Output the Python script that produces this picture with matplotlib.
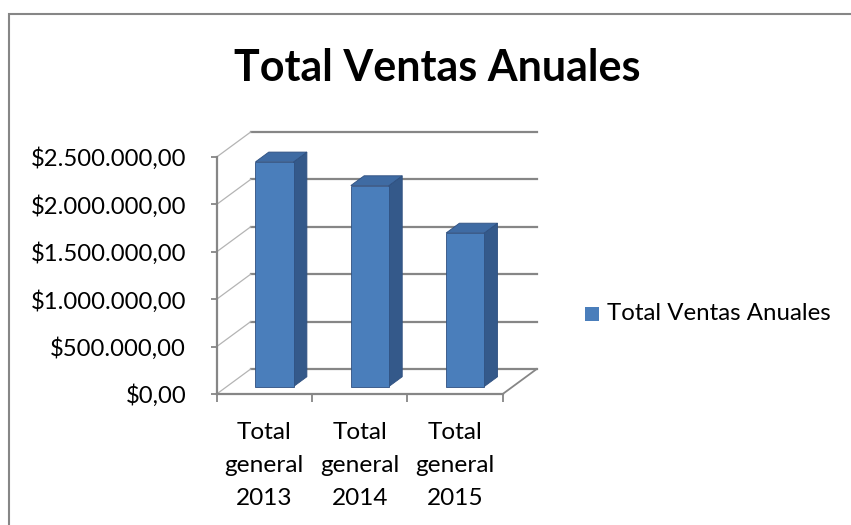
import matplotlib
matplotlib.use('Agg')
import numpy as np
import matplotlib.pyplot as plt
import matplotlib.transforms as mtransforms
from matplotlib.patches import Polygon, Rectangle
from matplotlib.lines import Line2D

# datos del grafico
categorias = ['Total\ngeneral\n2013', 'Total\ngeneral\n2014', 'Total\ngeneral\n2015']
ventas = [2370000, 2120000, 1620000]
marcas_y = [0, 500000, 1000000, 1500000, 2000000, 2500000]
titulo = 'Total Ventas Anuales'
serie = 'Total Ventas Anuales'

FUENTE = 'Lato'
plt.rcParams['font.family'] = [FUENTE, 'DejaVu Sans']

# profundidad del "3D" en pixeles
DX, DY = 34, 25
D_FRENTE, D_FONDO = 0.30, 0.69
ANCHO = 0.40

GRIS = '#868686'
GRIS_CLARO = '#b4b4b4'
AZUL = '#4a7ebb'
AZUL_LADO = '#34598a'
AZUL_TOPE = '#3f6ba3'


def pesos(v):
    s = f'{v:,.2f}'
    s = s.replace(',', 'X').replace('.', ',').replace('X', '.')
    return '$' + s


fig = plt.figure(figsize=(8.51, 5.25), dpi=100)
W, H = 851, 525
ax = fig.add_axes([216.7 / W, 131 / H, 286 / W, 237 / H])
ax.set_xlim(0, 3)
ax.set_ylim(0, 2500000)
for s in ax.spines.values():
    s.set_visible(False)
ax.patch.set_visible(False)

ident = mtransforms.IdentityTransform()


def punto(x, v, d):
    p = ax.transData.transform((x, v))
    return (p[0] + d * DX, p[1] + d * DY)


def linea(p1, p2, color, lw, z=1):
    ax.add_line(Line2D([p1[0], p2[0]], [p1[1], p2[1]], transform=ident,
                       color=color, lw=lw, zorder=z, clip_on=False))


# pared del fondo: lineas de division
for v in marcas_y:
    linea(punto(0, v, 1), punto(3, v, 1), GRIS, 1.6)
    # pared izquierda
    linea(punto(0, v, 0), punto(0, v, 1), GRIS_CLARO, 0.9)

# piso
linea(punto(3, 0, 0), punto(3, 0, 1), GRIS, 1.3)
linea(punto(0, 0, 0), punto(3, 0, 0), GRIS, 1.6, z=3)

# barras
for i, v in enumerate(ventas):
    x0 = i + 0.5 - ANCHO / 2
    x1 = i + 0.5 + ANCHO / 2
    lado = [punto(x1, 0, D_FRENTE), punto(x1, 0, D_FONDO),
            punto(x1, v, D_FONDO), punto(x1, v, D_FRENTE)]
    tope = [punto(x0, v, D_FRENTE), punto(x1, v, D_FRENTE),
            punto(x1, v, D_FONDO), punto(x0, v, D_FONDO)]
    frente = [punto(x0, 0, D_FRENTE), punto(x1, 0, D_FRENTE),
              punto(x1, v, D_FRENTE), punto(x0, v, D_FRENTE)]
    for caras, col in ((lado, AZUL_LADO), (tope, AZUL_TOPE), (frente, AZUL)):
        ax.add_patch(Polygon(caras, closed=True, transform=ident, facecolor=col,
                             edgecolor='#2f5080', lw=0.6, zorder=2, clip_on=False))

# eje vertical
ax.plot([0, 0], [0, 2500000], color=GRIS, lw=1.6, clip_on=False, zorder=3)
ax.set_yticks(marcas_y)
ax.set_yticklabels([pesos(v) for v in marcas_y])
ax.tick_params(axis='y', length=4, width=1.3, color=GRIS, pad=18, labelsize=17.2)

ax.set_xticks([0, 1, 2, 3])
ax.set_xticklabels([])
ax.tick_params(axis='x', which='major', length=6, width=1.3, color=GRIS)
ax.set_xticks([0.5, 1.5, 2.5], minor=True)
ax.set_xticklabels(categorias, minor=True, linespacing=1.72)
ax.tick_params(axis='x', which='minor', length=0, pad=20, labelsize=17.6)

# titulo
fig.text(437 / W, 1 - 68 / H, titulo, ha='center', va='center',
         fontsize=31, fontweight='bold')

# leyenda
fig.patches.append(Rectangle((585 / W, 1 - 321 / H), 14 / W, 14 / H,
                             transform=fig.transFigure, facecolor=AZUL,
                             edgecolor='none'))
fig.text(607 / W, 1 - 314 / H, serie, ha='left', va='center', fontsize=17.3)

# borde del area del grafico
fig.patches.append(Rectangle((8.5 / W, -0.1), 2, 1 - 13.5 / H + 0.1,
                             transform=fig.transFigure, facecolor='none',
                             edgecolor=GRIS, lw=1.5))

fig.savefig('out.png', dpi=100)
